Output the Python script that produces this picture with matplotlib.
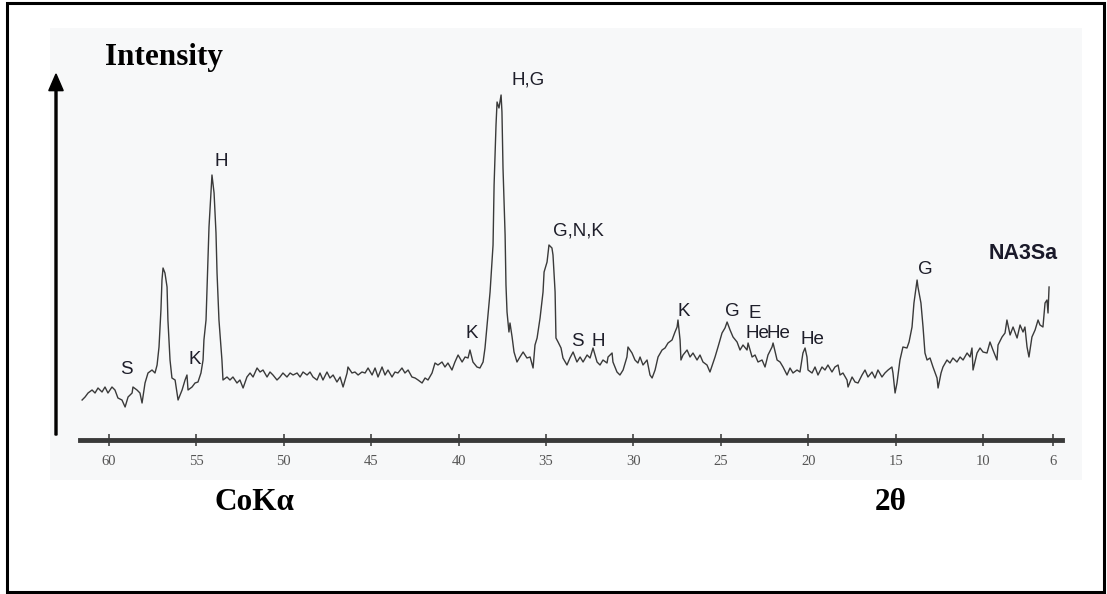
import matplotlib
matplotlib.use("Agg")
import matplotlib.pyplot as plt
from matplotlib.patches import Rectangle, FancyArrow

two_theta = [
    61.54, 61.37, 61.20, 60.97, 60.80, 60.63, 60.40, 60.23, 60.06, 59.83,
    59.66, 59.49, 59.26, 59.08, 58.91, 58.68, 58.63, 58.40, 58.23, 58.11,
    57.94, 57.77, 57.54, 57.37, 57.25, 57.14, 57.03, 56.97, 56.91, 56.80,
    56.68, 56.63, 56.51, 56.40, 56.22, 56.05, 55.82, 55.65, 55.54, 55.48,
    55.25, 55.08, 54.91, 54.74, 54.62, 54.57, 54.45, 54.39, 54.28, 54.17,
    54.11, 53.99, 53.88, 53.82, 53.71, 53.54, 53.48, 53.25,
    53.08, 52.91, 52.68, 52.51, 52.33, 52.11, 51.93, 51.76, 51.53, 51.36,
    51.19, 50.96, 50.79, 50.62, 50.39, 50.22, 50.05, 49.82, 49.64, 49.47,
    49.24, 49.07, 48.90, 48.67, 48.50, 48.33, 48.10, 47.93, 47.76, 47.53,
    47.36, 47.18, 46.96, 46.78, 46.61, 46.38, 46.33, 46.10, 45.93, 45.75,
    45.53, 45.35, 45.18, 44.95, 44.78, 44.61, 44.38, 44.21, 44.04, 43.81,
    43.64, 43.47, 43.24, 43.07, 42.89, 42.67, 42.49, 42.32, 42.09, 41.92,
    41.75, 41.52, 41.35, 41.18, 40.95, 40.78, 40.61,
    40.38, 40.21, 40.03, 39.80, 39.63, 39.46, 39.35, 39.18, 38.95, 38.78,
    38.60, 38.49, 38.37, 38.20, 38.03, 37.97, 37.86, 37.80, 37.69, 37.57,
    37.52, 37.46, 37.34, 37.29, 37.23, 37.12, 37.06, 36.94, 36.83, 36.66,
    36.49, 36.31, 36.09, 35.91, 35.74, 35.63, 35.51, 35.34, 35.17, 35.11,
    34.94, 34.83, 34.66, 34.60, 34.48, 34.43, 34.31, 34.14, 34.03, 33.80,
    33.63, 33.45, 33.23, 33.05, 32.88, 32.65, 32.48, 32.31, 32.08, 31.91,
    31.74, 31.51,
    31.45, 31.22, 31.17, 30.94, 30.77, 30.59, 30.37, 30.31, 30.08, 29.91,
    29.74, 29.62, 29.45, 29.22, 29.05, 28.93, 28.76, 28.59, 28.36, 28.19,
    28.02, 27.79, 27.62, 27.50, 27.45, 27.33, 27.28, 27.16, 26.93, 26.76,
    26.59, 26.36, 26.19, 26.02, 25.79, 25.62, 25.45, 25.33, 25.16, 24.93,
    24.76, 24.64, 24.47, 24.30, 24.07, 23.90, 23.73, 23.50, 23.44, 23.21,
    23.04, 22.87, 22.64, 22.47, 22.30, 22.07, 22.01, 21.78, 21.61, 21.44,
    21.21, 21.04, 20.87, 20.64, 20.47,
    20.30, 20.18, 20.07, 20.01, 19.78, 19.61, 19.44, 19.21, 19.04, 18.87,
    18.64, 18.47, 18.29, 18.18, 18.01, 17.78, 17.72, 17.49, 17.32, 17.15,
    16.92, 16.75, 16.58, 16.35, 16.18, 16.01, 15.78, 15.61, 15.43, 15.21,
    15.15, 15.03, 14.92, 14.75, 14.58, 14.35, 14.23, 14.06, 13.95, 13.77,
    13.72, 13.55, 13.43, 13.32, 13.20, 13.03, 12.86, 12.63, 12.57, 12.40,
    12.29, 12.06, 11.89, 11.72, 11.49, 11.31, 11.14, 10.91, 10.74, 10.63,
    10.57, 10.34, 10.17, 10.00, 9.77, 9.60, 9.43, 9.20, 9.14, 8.91,
    8.74, 8.63, 8.45, 8.28, 8.05, 7.88, 7.71, 7.60, 7.48, 7.37,
    7.20, 7.02, 6.85, 6.74, 6.57, 6.45, 6.34, 6.28, 6.22,
]
intensity = [
    40, 43, 47, 50, 47, 52, 48, 53, 47, 53,
    50, 42, 40, 33, 43, 47, 53, 50, 47, 37,
    57, 67, 70, 67, 75, 93, 130, 160, 172, 167,
    153, 120, 80, 62, 60, 40, 50, 60, 65, 50,
    53, 57, 58, 67, 80, 100, 120, 153, 213, 247,
    265, 247, 207, 167, 120, 80, 60, 63,
    60, 63, 57, 60, 52, 63, 67, 63, 72, 68,
    70, 63, 68, 65, 60, 63, 67, 63, 67, 65,
    67, 63, 68, 65, 68, 63, 60, 67, 60, 68,
    62, 65, 58, 63, 53, 67, 73, 67, 68, 65,
    68, 67, 72, 65, 72, 63, 73, 65, 70, 63,
    68, 67, 72, 67, 70, 63, 62, 60, 57, 62,
    60, 67, 77, 75, 78, 73, 77,
    70, 78, 85, 78, 83, 82, 90, 78, 73, 72,
    78, 92, 115, 148, 195, 255, 315, 338, 332, 345,
    328, 272, 205, 155, 128, 108, 117, 103, 88, 78,
    83, 88, 82, 83, 72, 95, 102, 122, 148, 168,
    178, 195, 192, 185, 148, 102, 98, 92, 82, 75,
    82, 88, 78, 83, 78, 85, 82, 92, 78, 75,
    80, 77,
    83, 87, 78, 68, 65, 70, 83, 93, 87, 80,
    77, 83, 75, 80, 65, 62, 70, 83, 90, 92,
    97, 100, 108, 113, 120, 100, 80, 85, 90, 83,
    87, 80, 85, 78, 75, 68, 77, 83, 93, 107,
    112, 118, 110, 103, 98, 90, 95, 90, 97, 83,
    85, 78, 80, 73, 85, 93, 97, 80, 78, 73,
    65, 72, 67, 70, 68,
    87, 92, 83, 70, 67, 73, 65, 73, 70, 75,
    68, 73, 75, 65, 67, 60, 53, 63, 58, 57,
    65, 70, 63, 68, 62, 70, 63, 67, 70, 73,
    67, 47, 57, 80, 93, 92, 98, 113, 137, 160,
    153, 137, 113, 87, 80, 82, 73, 62, 52, 67,
    73, 80, 77, 82, 78, 83, 80, 87, 83, 92,
    70, 87, 92, 88, 87, 98, 90, 80, 95, 103,
    107, 120, 105, 113, 102, 115, 108, 113, 93, 83,
    103, 110, 120, 115, 113, 137, 140, 127, 153,
]

tick_values = [60, 55, 50, 45, 40, 35, 30, 25, 20, 15, 10, 6]
tick_labels = ["60", "55", "50", "45", "40", "35", "30", "25", "20", "15", "10", "6"]

# phase labels: (text, 2theta position, intensity position)
peak_labels = ["S", "K", "H", "K", "H,G", "G,N,K", "S", "H", "K", "G", "E",
               "He", "He", "He", "G"]
peak_label_2theta = [59.03, 55.08, 53.59, 39.24, 36.03, 33.12, 33.23, 32.03,
                     27.11, 24.36, 23.05, 22.93, 21.68, 19.73, 13.32]
peak_label_int = [71, 81, 278, 107, 360, 209, 98, 98, 129, 129, 127, 107,
                  107, 100, 170]

sample_name = "NA3Sa"
y_title = "Intensity"
radiation = "CoKα"
x_title = "2θ"

# ---------------- figure ----------------
W, H = 1107, 594
fig = plt.figure(figsize=(W / 100, H / 100), dpi=100)
fig.patch.set_facecolor("white")


def fx(px):
    return px / W


def fy(py):
    return 1 - py / H


# faint scanned-page background
fig.patches.append(Rectangle((fx(50), fy(480)), fx(1082) - fx(50), fy(28) - fy(480),
                             transform=fig.transFigure, facecolor="#f7f8f9",
                             edgecolor="none", zorder=-5))
# outer frame
fig.patches.append(Rectangle((fx(7), fy(592)), fx(1104) - fx(7), fy(3) - fy(592),
                             transform=fig.transFigure, facecolor="none",
                             edgecolor="black", linewidth=2.2, zorder=5))

ax = fig.add_axes([fx(80), fy(440), fx(1062) - fx(80), fy(60) - fy(440)])
ax.set_zorder(2)
ax.patch.set_visible(False)
ax.plot(two_theta, intensity, color="#3a3a3a", linewidth=1.0)
ax.set_xlim(61.66, 5.48)
ax.set_ylim(0, 380)

for side in ["top", "right", "left"]:
    ax.spines[side].set_visible(False)
ax.spines["bottom"].set_linewidth(3.5)
ax.spines["bottom"].set_color("#3a3a3a")
ax.set_yticks([])
ax.set_xticks(tick_values)
ax.set_xticklabels(tick_labels)
ax.tick_params(axis="x", direction="inout", length=8, width=1.2, color="#444",
               pad=7, labelsize=10.5, labelcolor="#555")
for lab in ax.get_xticklabels():
    lab.set_fontfamily("Liberation Serif")

for t, xx, yy in zip(peak_labels, peak_label_2theta, peak_label_int):
    ax.text(xx, yy, t, ha="center", va="center", fontsize=13.5,
            family="Liberation Sans", color="#1e1e2a")

fig.text(fx(1023), fy(254), sample_name, ha="center", va="center",
         fontsize=15.5, fontweight="bold", family="Liberation Sans", color="#1a1a2a")

# vertical intensity arrow
fig.patches.append(FancyArrow(fx(56), fy(435), 0, fy(74) - fy(435),
                              width=0.0018, head_width=0.013, head_length=0.028,
                              length_includes_head=True, transform=fig.transFigure,
                              color="black", zorder=4))

fig.text(fx(164), fy(57), y_title, ha="center", va="center", fontsize=22.5,
         fontweight="bold", family="Liberation Serif")
fig.text(fx(255), fy(503), radiation, ha="center", va="center", fontsize=22.5,
         fontweight="bold", family="Liberation Serif")
fig.text(fx(891), fy(503), x_title, ha="center", va="center", fontsize=22.5,
         fontweight="bold", family="Liberation Serif")

fig.savefig("out.png", dpi=100)
